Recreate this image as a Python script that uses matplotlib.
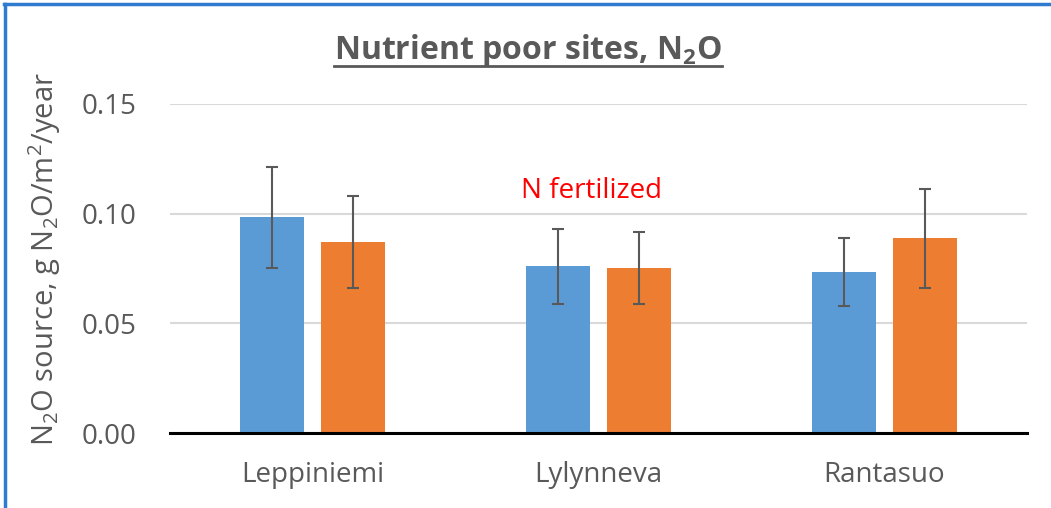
import numpy as np
import matplotlib
matplotlib.use("Agg")
import matplotlib.pyplot as plt
from matplotlib.lines import Line2D

# data
sites = ["Leppiniemi", "Lylynneva", "Rantasuo"]
control = [0.0983, 0.0760, 0.0735]
control_err = [0.0230, 0.0172, 0.0156]
fertilized = [0.0872, 0.0752, 0.0888]
fertilized_err = [0.0210, 0.0163, 0.0225]
yticks = [0.00, 0.05, 0.10, 0.15]

blue = "#5B9BD5"
orange = "#ED7D31"
grey_text = "#595959"

plt.rcParams["font.family"] = ["Open Sans", "DejaVu Sans"]
plt.rcParams["mathtext.fontset"] = "custom"
plt.rcParams["mathtext.rm"] = "Open Sans"
plt.rcParams["mathtext.bf"] = "Open Sans:bold"
plt.rcParams["mathtext.default"] = "regular"

fig = plt.figure(figsize=(10.51, 5.08), dpi=100)
ax = fig.add_axes([0.1618, 0.1476, 0.8154, 0.6477])

x = np.arange(len(sites))
w = 0.224
off = 0.142
err_style = dict(ecolor=grey_text, elinewidth=1.5, capsize=4, capthick=1.5)

ax.bar(x - off, control, w, color=blue, yerr=control_err, error_kw=err_style, zorder=2)
ax.bar(x + off, fertilized, w, color=orange, yerr=fertilized_err, error_kw=err_style, zorder=2)

ax.set_xlim(-0.5, 2.5)
ax.set_ylim(0, 0.15)
ax.set_yticks(yticks)
ax.set_yticklabels([f"{v:.2f}" for v in yticks])
ax.set_xticks(x)
ax.set_xticklabels(sites)
ax.tick_params(axis="both", length=0, labelsize=20, colors=grey_text)
ax.tick_params(axis="y", pad=24)
ax.tick_params(axis="x", pad=20)

ax.grid(axis="y", color="#D9D9D9", linewidth=1.5, zorder=0)
ax.set_axisbelow(True)
for s in ["left", "right", "top"]:
    ax.spines[s].set_visible(False)
ax.spines["bottom"].set_color("black")
ax.spines["bottom"].set_linewidth(2.2)
ax.spines["bottom"].set_zorder(3)

ax.set_ylabel("N$_2$O source, g N$_2$O/m$^2$/year", fontsize=21, color=grey_text)
ax.yaxis.set_label_coords(-0.125, 0.53)

# annotation above the middle group
ax.text(0.975, 0.1105, "N fertilized", color="red", fontsize=20, ha="center", va="center")

# title with underline
title = fig.text(0.5024, 0.9, r"Nutrient poor sites, N$_\mathbf{2}$O", fontsize=23,
                 fontweight="bold", color=grey_text, ha="center", va="center")
fig.canvas.draw()
bb = title.get_window_extent().transformed(fig.transFigure.inverted())
fig.add_artist(Line2D([bb.x0, bb.x1], [0.87, 0.87], transform=fig.transFigure,
                      color=grey_text, linewidth=2))

# blue frame edges on top and left
fig.add_artist(Line2D([0.004, 1.0], [0.993, 0.993], transform=fig.transFigure,
                      color="#2E7BCF", linewidth=2.5))
fig.add_artist(Line2D([0.0045, 0.0045], [0.0, 0.993], transform=fig.transFigure,
                      color="#2E7BCF", linewidth=2.5))

fig.savefig("out.png", dpi=100)
